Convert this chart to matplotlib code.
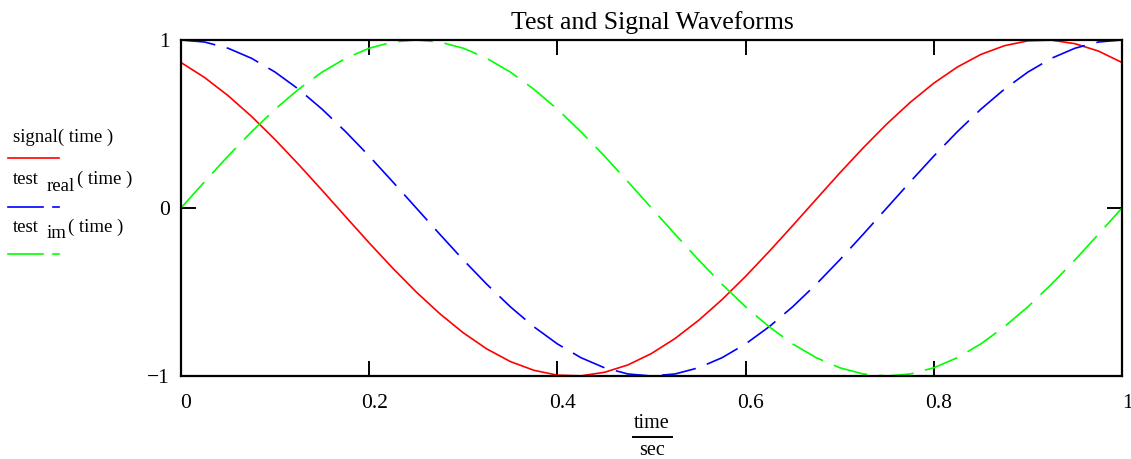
import numpy as np
import matplotlib
matplotlib.use("Agg")
import matplotlib.pyplot as plt
from matplotlib.lines import Line2D
import matplotlib.transforms as mtransforms

plt.rcParams['font.family'] = ['Liberation Serif', 'DejaVu Serif']
plt.rcParams['lines.scale_dashes'] = False

# time / sec, step 0.025
time = np.array([0.000, 0.025, 0.050, 0.075, 0.100, 0.125, 0.150, 0.175, 0.200, 0.225,
                 0.250, 0.275, 0.300, 0.325, 0.350, 0.375, 0.400, 0.425, 0.450, 0.475,
                 0.500, 0.525, 0.550, 0.575, 0.600, 0.625, 0.650, 0.675, 0.700, 0.725,
                 0.750, 0.775, 0.800, 0.825, 0.850, 0.875, 0.900, 0.925, 0.950, 0.975,
                 1.000])
signal = [0.866, 0.777, 0.669, 0.545, 0.407, 0.259, 0.105, -0.052, -0.208, -0.358,
          -0.500, -0.629, -0.743, -0.839, -0.914, -0.966, -0.995, -0.999, -0.978, -0.934,
          -0.866, -0.777, -0.669, -0.545, -0.407, -0.259, -0.105, 0.052, 0.208, 0.358,
          0.500, 0.629, 0.743, 0.839, 0.914, 0.966, 0.995, 0.999, 0.978, 0.934,
          0.866]
test_real = [1.000, 0.988, 0.951, 0.891, 0.809, 0.707, 0.588, 0.454, 0.309, 0.156,
             0.000, -0.156, -0.309, -0.454, -0.588, -0.707, -0.809, -0.891, -0.951, -0.988,
             -1.000, -0.988, -0.951, -0.891, -0.809, -0.707, -0.588, -0.454, -0.309, -0.156,
             0.000, 0.156, 0.309, 0.454, 0.588, 0.707, 0.809, 0.891, 0.951, 0.988,
             1.000]
test_im = [0.000, 0.156, 0.309, 0.454, 0.588, 0.707, 0.809, 0.891, 0.951, 0.988,
           1.000, 0.988, 0.951, 0.891, 0.809, 0.707, 0.588, 0.454, 0.309, 0.156,
           0.000, -0.156, -0.309, -0.454, -0.588, -0.707, -0.809, -0.891, -0.951, -0.988,
           -1.000, -0.988, -0.951, -0.891, -0.809, -0.707, -0.588, -0.454, -0.309, -0.156,
           0.000]

xticks = [0, 0.2, 0.4, 0.6, 0.8, 1]
xticklabels = ['0', '0.2', '0.4', '0.6', '0.8', '1']
yticks = [-1, 0, 1]
yticklabels = ['\u22121', '0', '1']

W, H = 1131, 459
fig = plt.figure(figsize=(W / 100, H / 100), dpi=100)
ax = fig.add_axes([181 / W, 1 - 376 / H, (1122 - 181) / W, (376 - 40) / H])

dash = (25, 8.5)
ax.plot(time, signal, color='#ff0000', lw=1.2, clip_on=False, zorder=3)
ax.plot(time, test_real, color='#0000ff', lw=1.2, dashes=dash, clip_on=False, zorder=3)
ax.plot(time, test_im, color='#00ff00', lw=1.2, dashes=dash, clip_on=False, zorder=3)

ax.set_xlim(0, 1)
ax.set_ylim(-1, 1)
for s in ax.spines.values():
    s.set_linewidth(1.6)
    s.set_zorder(4)

ax.set_xticks(xticks)
ax.set_xticklabels(xticklabels)
ax.set_yticks(yticks)
ax.set_yticklabels(yticklabels)
ax.tick_params(axis='both', direction='in', length=11, width=1.4, labelsize=15.5,
               top=True, right=True)
ax.tick_params(axis='x', pad=13)
ax.tick_params(axis='y', pad=8)
off = mtransforms.ScaledTranslation(5 / 100, 0, fig.dpi_scale_trans)
for lab in ax.get_xticklabels():
    lab.set_transform(lab.get_transform() + off)

fig.text(652 / W, 1 - 29 / H, 'Test and Signal Waveforms', ha='center',
         va='baseline', fontsize=18.5)

# x label as a fraction
fig.text(652 / W, 1 - 428 / H, 'time', ha='center', va='baseline', fontsize=14.5)
fig.add_artist(Line2D([633 / W, 672 / W], [1 - 437 / H, 1 - 437 / H],
                      color='black', lw=1.4, transform=fig.transFigure))
fig.text(652 / W, 1 - 455 / H, 'sec', ha='center', va='baseline', fontsize=14.5)

# legend on the left
fs = 13.5
fig.text(13 / W, 1 - 142 / H, 'signal( time )', va='baseline', fontsize=fs)
fig.add_artist(Line2D([8 / W, 59 / W], [1 - 158 / H] * 2, color='#ff0000',
                      lw=1.2, transform=fig.transFigure))

fig.text(13 / W, 1 - 184 / H, 'test', va='baseline', fontsize=fs)
fig.text(47 / W, 1 - 191 / H, 'real', va='baseline', fontsize=fs)
fig.text(77 / W, 1 - 184 / H, '( time )', va='baseline', fontsize=fs)
fig.add_artist(Line2D([8 / W, 43 / W], [1 - 207 / H] * 2, color='#0000ff',
                      lw=1.2, transform=fig.transFigure))
fig.add_artist(Line2D([53 / W, 59 / W], [1 - 207 / H] * 2, color='#0000ff',
                      lw=1.2, transform=fig.transFigure))

fig.text(13 / W, 1 - 232 / H, 'test', va='baseline', fontsize=fs)
fig.text(47 / W, 1 - 238 / H, 'im', va='baseline', fontsize=fs)
fig.text(68 / W, 1 - 232 / H, '( time )', va='baseline', fontsize=fs)
fig.add_artist(Line2D([8 / W, 43 / W], [1 - 254 / H] * 2, color='#00ff00',
                      lw=1.2, transform=fig.transFigure))
fig.add_artist(Line2D([53 / W, 59 / W], [1 - 254 / H] * 2, color='#00ff00',
                      lw=1.2, transform=fig.transFigure))

fig.savefig('out.png', dpi=100)
